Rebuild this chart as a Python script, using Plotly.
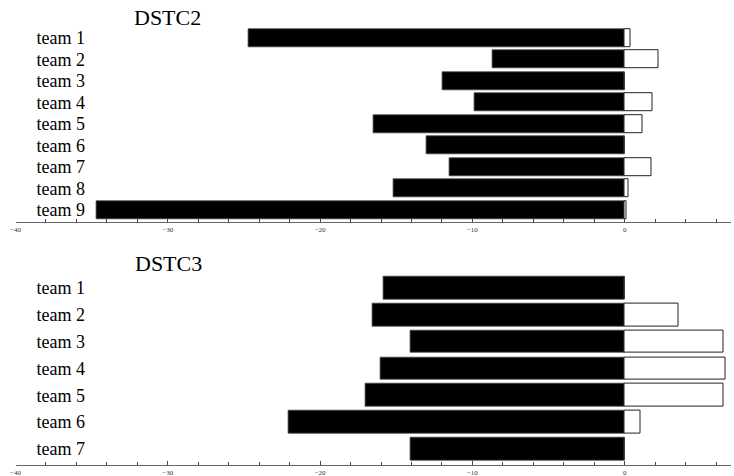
import plotly.graph_objects as go

W, H = 734, 476

dstc2_teams = ["team 1", "team 2", "team 3", "team 4", "team 5", "team 6", "team 7", "team 8", "team 9"]
dstc2_neg = [-24.7, -8.65, -11.96, -9.84, -16.47, -12.99, -11.52, -15.16, -34.7]
dstc2_pos = [0.37, 2.2, 0.0, 1.81, 1.18, 0.0, 1.75, 0.26, 0.1]

dstc3_teams = ["team 1", "team 2", "team 3", "team 4", "team 5", "team 6", "team 7"]
dstc3_neg = [-15.84, -16.54, -14.04, -16.06, -17.02, -22.08, -14.04]
dstc3_pos = [0.0, 3.52, 6.52, 6.63, 6.52, 1.03, 0.0]

x_ticks = [-40, -30, -20, -10, 0]
x_tick_labels = ["\u221240", "\u221230", "\u221220", "\u221210", "0"]

FONT = "'Liberation Serif', 'Times New Roman', Times, serif"

fig = go.Figure()

def add_panel(teams, neg, pos, xa, ya):
    idx = list(range(len(teams)))
    fig.add_trace(go.Bar(y=idx, x=neg, orientation="h", width=0.84,
                         marker=dict(color="black", line=dict(color="#444", width=0.8)),
                         xaxis=xa, yaxis=ya, showlegend=False, cliponaxis=False))
    fig.add_trace(go.Bar(y=idx, x=pos, orientation="h", width=0.84,
                         marker=dict(color="white", line=dict(color="#222", width=1)),
                         xaxis=xa, yaxis=ya, showlegend=False, cliponaxis=False))

add_panel(dstc2_teams, dstc2_neg, dstc2_pos, "x", "y")
add_panel(dstc3_teams, dstc3_neg, dstc3_pos, "x2", "y2")

def px_x(p):
    return p / W

def px_y(p):
    return 1 - p / H

xdom = [px_x(15.5), px_x(731.3)]
xcommon = dict(domain=xdom, range=[-40, 7], tickvals=x_ticks, ticktext=x_tick_labels,
               ticks="inside", ticklen=4, tickwidth=1, tickcolor="#444",
               showline=True, linecolor="#666", linewidth=1.2,
               showgrid=False, zeroline=False, automargin=False,
               tickfont=dict(family=FONT, size=7, color="#333"),
               minor=dict(dtick=2, tick0=0, ticks="inside", ticklen=2.5, tickwidth=1, tickcolor="#444"))

ycommon = dict(showgrid=False, zeroline=False, showline=False, ticks="",
               anchor="free", position=px_x(87), ticklabelstandoff=2, automargin=False,
               tickfont=dict(family=FONT, size=18, color="black"))

fig.update_layout(
    width=W, height=H,
    margin=dict(l=0, r=0, t=0, b=0, autoexpand=False),
    plot_bgcolor="white", paper_bgcolor="white",
    barmode="relative", bargap=0, hovermode=False,
    xaxis=dict(anchor="y", **xcommon),
    xaxis2=dict(anchor="y2", **xcommon),
    yaxis=dict(domain=[px_y(222), px_y(27.2)], range=[8.56, -0.5],
               tickvals=list(range(len(dstc2_teams))), ticktext=dstc2_teams, **ycommon),
    yaxis2=dict(domain=[px_y(465), px_y(274.6)], range=[6.596, -0.5],
                tickvals=list(range(len(dstc3_teams))), ticktext=dstc3_teams, **ycommon),
    annotations=[
        dict(text="DSTC2", x=px_x(167.5), y=px_y(17.5), xref="paper", yref="paper",
             showarrow=False, xanchor="center", yanchor="middle",
             font=dict(family=FONT, size=22, color="black")),
        dict(text="DSTC3", x=px_x(168.5), y=px_y(263), xref="paper", yref="paper",
             showarrow=False, xanchor="center", yanchor="middle",
             font=dict(family=FONT, size=22, color="black")),
    ],
)

fig.write_html("out.html", config={"displayModeBar": False},
               post_script="document.body.style.margin='0';document.body.style.overflow='hidden';")
